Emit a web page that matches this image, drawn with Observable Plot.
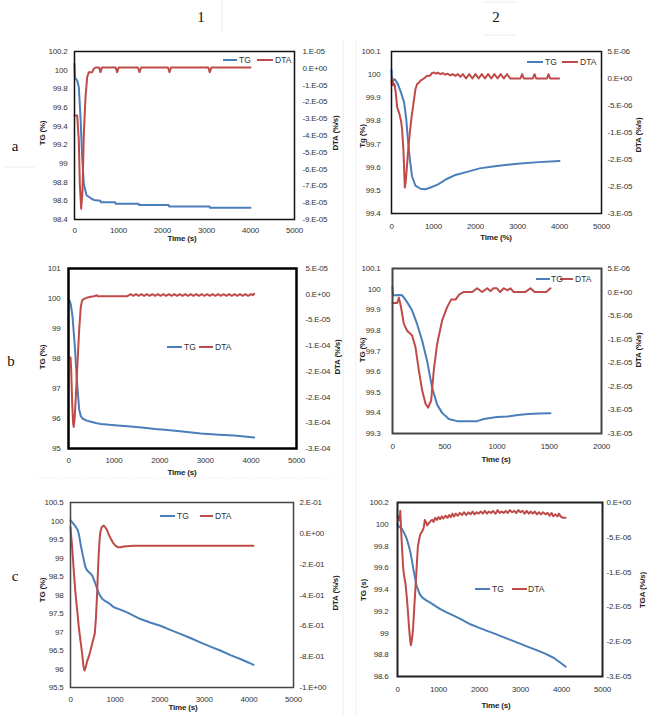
<!DOCTYPE html>
<html><head><meta charset="utf-8">
<script src="https://cdn.jsdelivr.net/npm/d3@7"></script>
<script src="https://cdn.jsdelivr.net/npm/@observablehq/plot@0.6"></script>
<style>
body{margin:0;background:#fff;}
#root{position:relative;width:647px;height:715px;overflow:hidden;background:#fff;}
#root svg{position:absolute;}
</style></head><body><div id="root"></div>
<script>
// ---------- data (time s, value) ----------
const timeTicks5000 = [0,1000,2000,3000,4000,5000];
const timeTicks2000 = [0,500,1000,1500,2000];

// Panel 1a
const tg1a = [[0,100.07],[8,99.93],[23,99.91],[61,99.89],[98,99.82],[136,99.5],[174,99.07],[212,98.78],[273,98.66],[364,98.63],[439,98.61],[590,98.6],[600,98.585],[925,98.585],[935,98.57],[1455,98.57],[1465,98.555],[2140,98.555],[2150,98.54],[3070,98.54],[3080,98.525],[4000,98.525]];
const dta1a = [[0,-2.81],[61,-2.81],[98,-4.3],[121,-6.9],[152,-8.36],[182,-7.27],[212,-3.9],[250,-1.72],[288,-0.53],[326,-0.23],[402,-0.23],[439,-0.03],[477,0.05],[560,0.05],[591,-0.23],[625,0.05],[935,0.05],[970,-0.23],[1005,0.05],[1440,0.05],[1477,-0.23],[1515,0.05],[2125,0.05],[2159,-0.23],[2195,0.05],[3040,0.05],[3074,-0.23],[3110,0.05],[4000,0.05]];
const tgTicks1a = [98.4,98.6,98.8,99,99.2,99.4,99.6,99.8,100,100.2];
const tgLabels1a = ["98.4","98.6","98.8","99","99.2","99.4","99.6","99.8","100","100.2"];
const dtaTicks1a = [1,0,-1,-2,-3,-4,-5,-6,-7,-8,-9];
const dtaLabels1a = ["1.E-05","0.E+00","-1.E-05","-2.E-05","-3.E-05","-4.E-05","-5.E-05","-6.E-05","-7.E-05","-8.E-05","-9.E-05"];

// Panel 2a
const tg2a = [[0,100.02],[12,99.97],[40,99.975],[80,99.98],[150,99.96],[230,99.92],[300,99.88],[350,99.81],[390,99.72],[440,99.63],[490,99.56],[570,99.52],[690,99.507],[800,99.505],[900,99.51],[1100,99.525],[1300,99.548],[1500,99.565],[1800,99.58],[2100,99.595],[2500,99.605],[3000,99.615],[3500,99.622],[4000,99.627]];
const dta2a = [[0,-0.05],[10,-0.12],[25,0.0],[40,-0.12],[70,-0.1],[100,-0.25],[135,-0.53],[190,-0.66],[230,-0.8],[254,-0.95],[285,-1.35],[317,-2.02],[340,-1.9],[370,-1.6],[400,-1.3],[437,-1.0],[480,-0.7],[532,-0.41],[570,-0.2],[611,-0.1],[650,-0.08],[690,-0.04],[770,0.0],[849,0.05],[920,0.05],[960,0.1],[1008,0.11],[1060,0.09],[1100,0.11],[1167,0.08],[1220,0.1],[1280,0.07],[1330,0.09],[1400,0.06],[1460,0.08],[1520,0.05],[1580,0.08],[1640,0.03],[1700,0.08],[1775,0.0],[1850,0.08],[1925,0.0],[2000,0.08],[2075,0.0],[2150,0.08],[2225,0.0],[2300,0.08],[2375,0.0],[2450,0.08],[2525,0.0],[2600,0.08],[2675,0.0],[2750,0.08],[2825,0.0],[3070,0.0],[3111,0.08],[3150,0.0],[3365,0.0],[3405,0.08],[3445,0.0],[3700,0.0],[3738,0.08],[3775,0.0],[3990,0.0]];
const tgTicks2a = [99.4,99.5,99.6,99.7,99.8,99.9,100,100.1];
const tgLabels2a = ["99.4","99.5","99.6","99.7","99.8","99.9","100","100.1"];
const dtaTicks2a = [0.5,0,-0.5,-1,-1.5,-2,-2.5];
const dtaLabels2a = ["5.E-06","0.E+00","-5.E-06","-1.E-05","-2.E-05","-2.E-05","-3.E-05"];

// Panel 1b
const tg1b = [[0,100.0],[25,99.92],[51,99.8],[88,99.4],[139,98.4],[183,97.3],[234,96.3],[270,96.08],[307,96.0],[400,95.93],[490,95.89],[600,95.85],[709,95.82],[900,95.79],[1075,95.77],[1300,95.74],[1600,95.7],[1900,95.65],[2171,95.62],[2500,95.57],[2902,95.5],[3300,95.46],[3633,95.43],[4072,95.37]];
const dta1b = [[0,-1.23],[45,-1.23],[60,-1.5],[80,-2.1],[100,-2.5],[115,-2.58],[135,-2.4],[160,-2.0],[197,-1.34],[234,-0.69],[270,-0.24],[300,-0.12],[340,-0.09],[400,-0.07],[490,-0.05],[560,-0.04],[620,-0.02],[640,-0.04],[800,-0.04],[1000,-0.04],[1200,-0.04],[1280,-0.04],[1300,-0.03],[1360,0.0],[1420,-0.03],[1480,0.0],[1540,-0.03],[1600,0.0],[1660,-0.03],[1720,0.0],[1780,-0.03],[1840,0.0],[1900,-0.03],[1960,0.0],[2020,-0.03],[2080,0.0],[2140,-0.03],[2200,0.0],[2260,-0.03],[2320,0.0],[2380,-0.03],[2440,0.0],[2500,-0.03],[2560,0.0],[2620,-0.03],[2680,0.0],[2740,-0.03],[2800,0.0],[2860,-0.03],[2920,0.0],[2980,-0.03],[3040,0.0],[3100,-0.03],[3160,0.0],[3220,-0.03],[3280,0.0],[3340,-0.03],[3400,0.0],[3460,-0.03],[3520,0.0],[3580,-0.03],[3640,0.0],[3700,-0.03],[3760,0.0],[3820,-0.03],[3880,0.0],[3940,-0.03],[4000,0.0],[4040,-0.02],[4072,0.01]];
const tgTicks1b = [95,96,97,98,99,100,101];
const tgLabels1b = ["95","96","97","98","99","100","101"];
const dtaTicks1b = [0.5,0,-0.5,-1,-1.5,-2,-2.5,-3];
const dtaLabels1b = ["5.E-05","0.E+00","-5.E-05","-1.E-04","-2.E-04","-2.E-04","-3.E-04","-3.E-04"];

// Panel 2b
const tg2b = [[0,100.01],[5,99.97],[30,99.97],[61,99.972],[93,99.97],[140,99.937],[188,99.896],[236,99.83],[284,99.75],[332,99.65],[380,99.52],[427,99.44],[475,99.4],[539,99.37],[619,99.36],[810,99.36],[874,99.37],[1001,99.38],[1100,99.382],[1200,99.39],[1300,99.395],[1400,99.397],[1512,99.398]];
const dta2b = [[0,-0.23],[45,-0.23],[61,-0.12],[80,-0.3],[108,-0.67],[140,-0.82],[188,-0.92],[220,-1.17],[252,-1.66],[284,-2.09],[316,-2.37],[341,-2.45],[370,-2.3],[395,-1.66],[427,-1.1],[475,-0.6],[523,-0.32],[561,-0.16],[603,-0.16],[640,-0.05],[680,0.0],[763,0.0],[810,0.08],[858,0.0],[906,0.08],[938,0.02],[967,0.08],[1000,0.08],[1030,0.0],[1065,0.08],[1100,0.04],[1130,0.08],[1160,0.0],[1270,0.0],[1320,0.08],[1360,0.0],[1470,0.0],[1512,0.08]];
const tgTicks2b = [99.3,99.4,99.5,99.6,99.7,99.8,99.9,100,100.1];
const tgLabels2b = ["99.3","99.4","99.5","99.6","99.7","99.8","99.9","100","100.1"];
const dtaTicks2b = [0.5,0,-0.5,-1,-1.5,-2,-2.5,-3];
const dtaLabels2b = ["5.E-06","0.E+00","-5.E-06","-1.E-05","-2.E-05","-2.E-05","-3.E-05","-3.E-05"];

// Panel 1c
const tg1c = [[0,100.02],[50,99.95],[90,99.89],[130,99.82],[164,99.75],[195,99.6],[224,99.39],[254,99.2],[284,99.03],[310,98.88],[336,98.75],[370,98.67],[410,98.62],[448,98.58],[485,98.53],[520,98.43],[560,98.3],[597,98.17],[634,98.05],[670,97.97],[709,97.9],[760,97.85],[821,97.81],[900,97.74],[970,97.67],[1100,97.61],[1269,97.53],[1400,97.45],[1567,97.35],[1800,97.25],[2015,97.17],[2250,97.05],[2463,96.95],[2700,96.83],[2910,96.72],[3150,96.6],[3358,96.5],[3600,96.37],[3806,96.27],[4000,96.17],[4104,96.11]];
const dta1c = [[0,0.04],[10,0.0],[37,-0.09],[75,-0.25],[112,-0.39],[150,-0.5],[187,-0.61],[225,-0.7],[261,-0.78],[290,-0.86],[313,-0.89],[340,-0.87],[373,-0.83],[410,-0.8],[448,-0.76],[500,-0.7],[545,-0.65],[570,-0.55],[597,-0.39],[615,-0.25],[634,-0.13],[655,-0.03],[672,0.01],[700,0.04],[746,0.05],[780,0.04],[821,0.02],[860,-0.01],[896,-0.03],[950,-0.06],[1007,-0.08],[1060,-0.09],[1119,-0.09],[1200,-0.085],[1418,-0.08],[2000,-0.08],[3000,-0.08],[4104,-0.08]];
const tgTicks1c = [95.5,96,96.5,97,97.5,98,98.5,99,99.5,100,100.5];
const tgLabels1c = ["95.5","96","96.5","97","97.5","98","98.5","99","99.5","100","100.5"];
const dtaTicks1c = [0.2,0,-0.2,-0.4,-0.6,-0.8,-1];
const dtaLabels1c = ["2.E-01","0.E+00","-2.E-01","-4.E-01","-6.E-01","-8.E-01","-1.E+00"];

// Panel 2c
const tg2c = [[0,100.0],[24,99.98],[106,99.96],[188,99.9],[230,99.86],[269,99.81],[310,99.75],[351,99.67],[390,99.58],[432,99.5],[460,99.44],[489,99.41],[540,99.36],[595,99.33],[700,99.3],[799,99.28],[920,99.25],[1044,99.22],[1200,99.19],[1370,99.16],[1578,99.12],[1778,99.08],[1980,99.05],[2186,99.02],[2400,98.99],[2594,98.96],[2800,98.93],[3002,98.9],[3200,98.87],[3409,98.84],[3600,98.81],[3817,98.77],[4000,98.72],[4103,98.69]];
const dta2c = [[0,-0.2],[30,-0.2],[50,-0.26],[68,-0.12],[85,-0.35],[110,-0.65],[140,-0.95],[160,-1.05],[195,-1.17],[225,-1.35],[252,-1.55],[280,-1.78],[301,-1.93],[325,-2.05],[345,-2.0],[365,-1.9],[382,-1.79],[410,-1.5],[439,-1.22],[470,-0.9],[496,-0.64],[530,-0.52],[561,-0.45],[600,-0.42],[640,-0.36],[667,-0.25],[695,-0.28],[724,-0.33],[760,-0.3],[800,-0.27],[846,-0.25],[880,-0.28],[920,-0.22],[960,-0.25],[1000,-0.21],[1040,-0.24],[1080,-0.2],[1120,-0.23],[1171,-0.19],[1220,-0.22],[1260,-0.18],[1300,-0.21],[1340,-0.16],[1380,-0.2],[1420,-0.16],[1470,-0.19],[1520,-0.15],[1577,-0.18],[1620,-0.14],[1680,-0.18],[1730,-0.14],[1780,-0.17],[1830,-0.13],[1880,-0.17],[1930,-0.14],[1980,-0.16],[2030,-0.13],[2080,-0.16],[2130,-0.12],[2180,-0.16],[2230,-0.13],[2280,-0.15],[2330,-0.12],[2390,-0.16],[2440,-0.11],[2490,-0.15],[2540,-0.13],[2590,-0.15],[2640,-0.12],[2690,-0.15],[2740,-0.11],[2797,-0.14],[2850,-0.12],[2900,-0.15],[2950,-0.11],[3000,-0.14],[3050,-0.12],[3100,-0.16],[3150,-0.12],[3203,-0.16],[3250,-0.13],[3300,-0.16],[3350,-0.13],[3400,-0.17],[3450,-0.14],[3500,-0.17],[3550,-0.14],[3610,-0.17],[3660,-0.15],[3710,-0.19],[3760,-0.15],[3800,-0.2],[3850,-0.17],[3900,-0.2],[3935,-0.16],[3980,-0.2],[4030,-0.22],[4098,-0.22]];
const tgTicks2c = [98.6,98.8,99,99.2,99.4,99.6,99.8,100,100.2];
const tgLabels2c = ["98.6","98.8","99","99.2","99.4","99.6","99.8","100","100.2"];
const dtaTicks2c = [0,-0.5,-1,-1.5,-2,-2.5];
const dtaLabels2c = ["0.E+00","-5.E-06","-1.E-05","-2.E-05","-2.E-05","-3.E-05"];

// ---------- rendering ----------
const BLUE = "#4a7ebb", RED = "#be4b48";
const FONT = "'Liberation Sans', Arial, sans-serif";
const root = document.getElementById("root");

function nearestLabel(ticks, labels){
  return d => { let bi=0, bd=Infinity; ticks.forEach((t,i)=>{const dd=Math.abs(t-d); if(dd<bd){bd=dd;bi=i;}}); return labels[bi]; };
}

function panel(c){
  const mL=44, mR=50, mT=6, mB=24;
  const w=c.R-c.L, h=c.B-c.T;
  const map = d3.scaleLinear().domain(c.rDomain).range(c.yDomain);
  const rPos = c.rTicks.map(map);
  const p = Plot.plot({
    width:w+mL+mR, height:h+mT+mB,
    marginLeft:mL, marginRight:mR, marginTop:mT, marginBottom:mB,
    style:{fontFamily:FONT, fontSize:"8px", letterSpacing:"-0.2px", color:"#333", background:"transparent", overflow:"visible"},
    x:{domain:c.xDomain}, y:{domain:c.yDomain},
    marks:[
      Plot.axisX({ticks:c.xTicks, tickSize:0, tickPadding:c.xPad, label:null, tickFormat:d=>String(d)}),
      Plot.axisY({ticks:c.yTicks, tickSize:0, tickPadding:c.lPad, label:null, tickFormat:nearestLabel(c.yTicks,c.yLabels)}),
      Plot.axisY({anchor:"right", ticks:rPos, tickSize:0, tickPadding:c.rPad, label:null, textAnchor:"start", tickFormat:nearestLabel(rPos,c.rLabels)}),
      Plot.line(c.tg, {x:d=>d[0], y:d=>d[1], stroke:BLUE, strokeWidth:2}),
      Plot.line(c.dta, {x:d=>d[0], y:d=>map(d[1]), stroke:RED, strokeWidth:2}),
      Plot.frame({stroke:c.fs, strokeWidth:c.fw})
    ]
  });
  p.style.left=(c.L-mL)+"px"; p.style.top=(c.T-mT)+"px";
  root.appendChild(p);
}

panel({L:74,T:51,R:294,B:219, xDomain:[0,5000], xTicks:timeTicks5000, yDomain:[98.4,100.2], yTicks:tgTicks1a, yLabels:tgLabels1a, rDomain:[-9,1], rTicks:dtaTicks1a, rLabels:dtaLabels1a, tg:tg1a, dta:dta1a, xPad:8, lPad:7, rPad:8, fs:"#111", fw:1.5});
panel({L:391,T:51,R:601,B:213, xDomain:[0,5000], xTicks:timeTicks5000, yDomain:[99.4,100.1], yTicks:tgTicks2a, yLabels:tgLabels2a, rDomain:[-2.5,0.5], rTicks:dtaTicks2a, rLabels:dtaLabels2a, tg:tg2a, dta:dta2a, xPad:10, lPad:11, rPad:6, fs:"#111", fw:1.5});
panel({L:68,T:268,R:296,B:448, xDomain:[0,5000], xTicks:timeTicks5000, yDomain:[95,101], yTicks:tgTicks1b, yLabels:tgLabels1b, rDomain:[-3,0.5], rTicks:dtaTicks1b, rLabels:dtaLabels1b, tg:tg1b, dta:dta1b, xPad:9, lPad:8, rPad:9, fs:"#000", fw:2.5});
panel({L:392,T:268,R:601,B:433, xDomain:[0,2000], xTicks:timeTicks2000, yDomain:[99.3,100.1], yTicks:tgTicks2b, yLabels:tgLabels2b, rDomain:[-3,0.5], rTicks:dtaTicks2b, rLabels:dtaLabels2b, tg:tg2b, dta:dta2b, xPad:10, lPad:12, rPad:6, fs:"#444", fw:2});
panel({L:70,T:502,R:293,B:687, xDomain:[0,5000], xTicks:timeTicks5000, yDomain:[95.5,100.5], yTicks:tgTicks1c, yLabels:tgLabels1c, rDomain:[-1,0.2], rTicks:dtaTicks1c, rLabels:dtaLabels1c, tg:tg1c, dta:dta1c, xPad:9, lPad:7, rPad:6, fs:"#444", fw:1.5});
panel({L:397,T:502,R:602,B:676, xDomain:[0,5000], xTicks:timeTicks5000, yDomain:[98.6,100.2], yTicks:tgTicks2c, yLabels:tgLabels2c, rDomain:[-2.5,0], rTicks:dtaTicks2c, rLabels:dtaLabels2c, tg:tg2c, dta:dta2c, xPad:10, lPad:9, rPad:4, fs:"#222", fw:2});

// ---------- overlay: titles, legends, panel letters ----------
const axisTitles = [
  ["TG (%)",42,133,-90],["DTA (%/s)",335,133,-90],["Time (s)",182,238,0],
  ["Tg (%)",362,136,-90],["DTA (%/s)",638,135,-90],["Time (%)",496,237,0],
  ["TG (%)",42,357,-90],["DTA (%/s)",337,357,-90],["Time (s)",182,472,0],
  ["TG (%)",362,350,-90],["DTA (%/s)",638,350,-90],["Time (s)",496,459,0],
  ["TG (%)",42,590,-90],["DTA (%/s)",335,593,-90],["Time (s)",183,707,0],
  ["TG (s)",363,590,-90],["TGA (%/s)",642,590,-90],["Time (s)",496,705,0]
];
const legends = [
  {y:60, b:[223,237], tgx:239, r:[257,273], dx:275},
  {y:62, b:[527,543], tgx:545, r:[562,578], dx:580},
  {y:347, b:[167,182], tgx:184, r:[199,213], dx:215},
  {y:279, b:[536,550], tgx:551, r:[560,573], dx:575},
  {y:516, b:[160,175], tgx:177, r:[200,213], dx:215},
  {y:589, b:[475,490], tgx:492, r:[512,527], dx:528}
];
const panelLetters = [["1",201,17],["2",496,17],["a",15,146],["b",11,361],["c",15,576]];

const ov = d3.select(root).append("svg").attr("width",647).attr("height",715).style("left","0px").style("top","0px").style("pointer-events","none");
const faint = [[222,0,222,33],[3,167,35,167],[483,2,516,2],[483,35,516,35],[343,40,343,715],[356,40,356,715]];
faint.forEach(f=>ov.append("line").attr("x1",f[0]).attr("y1",f[1]).attr("x2",f[2]).attr("y2",f[3]).attr("stroke","#eeeeee").attr("stroke-width",1));
ov.append("line").attr("x1",37).attr("y1",478).attr("x2",330).attr("y2",478).attr("stroke","#e6e6e6").attr("stroke-dasharray","1,2");

axisTitles.forEach(([t,x,y,r])=>{
  ov.append("text").attr("transform",`translate(${x},${y}) rotate(${r})`).attr("text-anchor","middle").attr("dy","0.35em")
    .attr("font-family",FONT).attr("font-size",8).attr("font-weight","bold").attr("letter-spacing","-0.2px").attr("fill","#222").text(t);
});
legends.forEach(l=>{
  ov.append("line").attr("x1",l.b[0]).attr("x2",l.b[1]).attr("y1",l.y).attr("y2",l.y).attr("stroke",BLUE).attr("stroke-width",2);
  ov.append("line").attr("x1",l.r[0]).attr("x2",l.r[1]).attr("y1",l.y).attr("y2",l.y).attr("stroke",RED).attr("stroke-width",2);
  ov.append("text").attr("x",l.tgx).attr("y",l.y).attr("dy","0.35em").attr("font-family",FONT).attr("font-size",8.5).attr("fill","#333").text("TG");
  ov.append("text").attr("x",l.dx).attr("y",l.y).attr("dy","0.35em").attr("font-family",FONT).attr("font-size",8.5).attr("fill","#333").text("DTA");
});
panelLetters.forEach(([t,x,y])=>{
  ov.append("text").attr("x",x).attr("y",y).attr("dy","0.35em").attr("text-anchor","middle").attr("font-family","'Liberation Serif', 'Times New Roman', serif").attr("font-size",15).attr("fill","#111").text(t);
});
</script></body></html>
